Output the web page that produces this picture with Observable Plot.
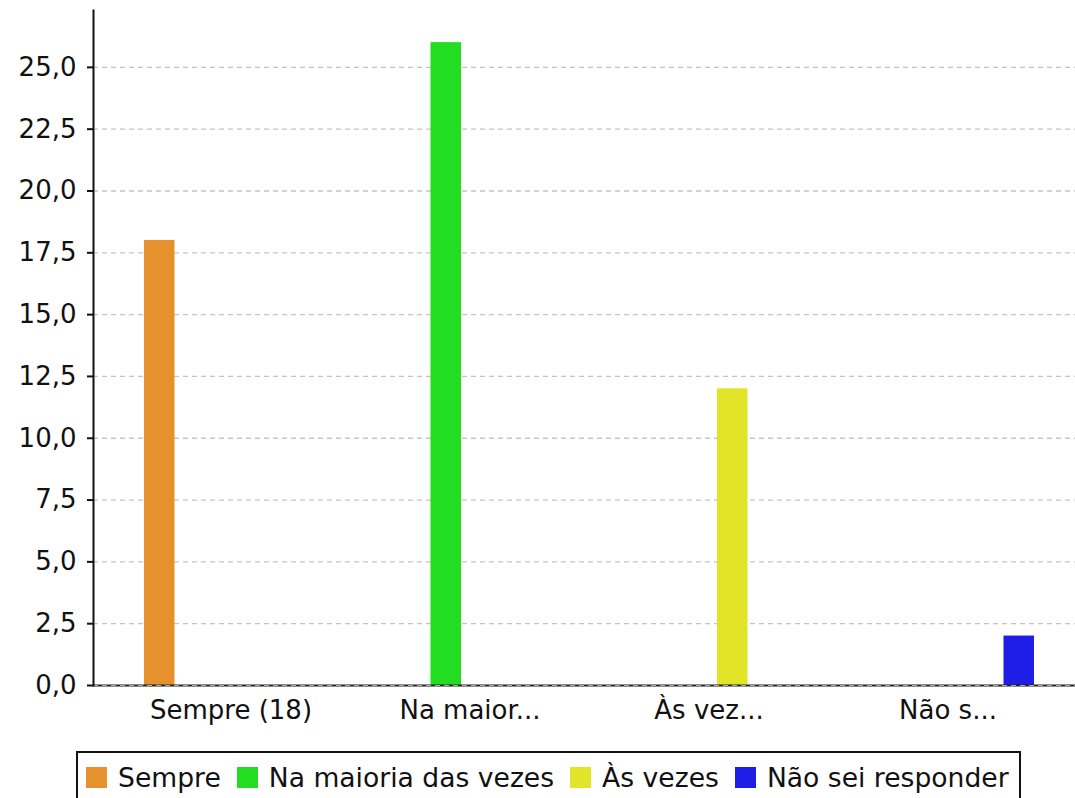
<!DOCTYPE html>
<html>
<head>
<meta charset="utf-8">
<script src="https://cdn.jsdelivr.net/npm/d3@7"></script>
<script src="https://cdn.jsdelivr.net/npm/@observablehq/plot@0.6"></script>
<style>
  body { margin: 0; background: #fff; font-family: "DejaVu Sans", sans-serif; }
  #wrap { position: relative; width: 1075px; height: 798px; overflow: hidden; }
  #chart svg text { font-size: 26px !important; font-family: "DejaVu Sans", sans-serif; }
  #legend {
    position: absolute; left: 76px; top: 751px; width: 941px; height: 70px;
    border: 2px solid #111; box-sizing: content-box;
    display: flex; align-items: flex-start; padding-left: 8px; box-sizing: border-box; width: 945px;
    font-size: 26.6px; color: #111; white-space: nowrap;
  }
  .item { display: flex; align-items: center; margin-right: 16px; margin-top: 9px; }
  .sw { width: 21px; height: 21px; margin-right: 11px; display: inline-block; }
</style>
</head>
<body>
<div id="wrap">
  <div id="chart"></div>
  <div id="legend"></div>
</div>
<script>
const categories = ["Sempre (18)", "Na maior...", "Às vez...", "Não s..."];
const seriesNames = ["Sempre", "Na maioria das vezes", "Às vezes", "Não sei responder"];
const seriesColors = ["#e5912e", "#22dd22", "#e2e428", "#1e1ee6"];
const sempreValues = [18, 0, 0, 0];
const maioriaValues = [0, 26, 0, 0];
const asVezesValues = [0, 0, 12, 0];
const naoSeiValues = [0, 0, 0, 2];
const yTicks = [0, 2.5, 5, 7.5, 10, 12.5, 15, 17.5, 20, 22.5, 25];

const seriesValues = [sempreValues, maioriaValues, asVezesValues, naoSeiValues];
const rows = [];
seriesNames.forEach((s, si) => {
  categories.forEach((c, ci) => rows.push({series: s, si, category: c, value: seriesValues[si][ci]}));
});

const slot = 47.5;
const barW = 31;
const band = 239.5;
const inset = (band - barW) / 2;

const fmt = d => d.toFixed(1).replace(".", ",");

const chart = Plot.plot({
  width: 1075,
  height: 740,
  marginLeft: 93,
  marginRight: 0,
  marginTop: 10,
  marginBottom: 55,
  style: {fontFamily: "DejaVu Sans, sans-serif", fontSize: "26px", color: "#111", background: "#fff"},
  x: {domain: categories, range: [110, 1068], padding: 0},
  y: {domain: [0, 27.3]},
  marks: [
    Plot.gridY(yTicks, {stroke: "#c4c4c4", strokeOpacity: 1, strokeDasharray: "5,4", strokeWidth: 1.3}),
    ...seriesNames.map((s, si) => Plot.barY(rows.filter(r => r.si === si && r.value > 0), {
      x: "category", y: "value", fill: seriesColors[si],
      dx: (si - 1.5) * slot, insetLeft: inset, insetRight: inset
    })),
    Plot.ruleY([0], {stroke: "#222", strokeWidth: 2}),
    Plot.gridY([0], {stroke: "#aaa", strokeOpacity: 1, strokeDasharray: "5,4", strokeWidth: 1}),
    Plot.axisY(yTicks, {tickFormat: fmt, tickSize: 6, tickPadding: 11, label: null, stroke: "#111", strokeWidth: 2, fontSize: 26}),
    Plot.frame({anchor: "left", stroke: "#111", strokeWidth: 2}),
    Plot.axisX({tickSize: 0, tickPadding: 15, label: null, fontSize: 26})
  ]
});
document.getElementById("chart").appendChild(chart);

const legend = document.getElementById("legend");
seriesNames.forEach((s, i) => {
  const it = document.createElement("div");
  it.className = "item";
  const sw = document.createElement("span");
  sw.className = "sw";
  sw.style.background = seriesColors[i];
  it.appendChild(sw);
  const t = document.createElement("span");
  t.textContent = s;
  it.appendChild(t);
  legend.appendChild(it);
});
</script>
</body>
</html>
